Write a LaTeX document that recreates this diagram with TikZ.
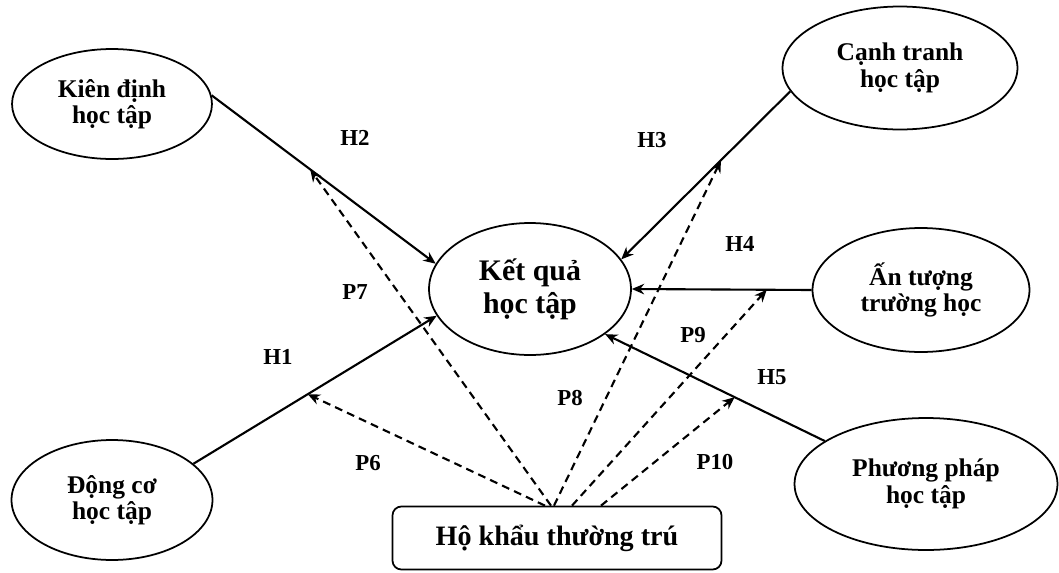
\documentclass[tikz,border=0pt]{standalone}
\usepackage{fontspec}
\setmainfont{Liberation Serif}
\usetikzlibrary{shapes.geometric,arrows.meta,calc}

\begin{document}
\begin{tikzpicture}[x=0.02cm,y=-0.02cm,
  oval/.style={ellipse,draw,line width=1pt,inner sep=0pt,align=center,
    font=\bfseries\fontsize{14.5}{15}\selectfont},
  hline/.style={line width=1.2pt,-{Stealth[length=7pt,width=6pt]}},
  pline/.style={line width=1.2pt,dash pattern=on 4.5pt off 3pt,-{Stealth[length=7pt,width=6pt]}},
  lab/.style={font=\bfseries\fontsize{13}{13}\selectfont}]
\useasboundingbox (0,0) rectangle (1059,572);

% factors and outcome
\node[oval,minimum width=4cm,minimum height=2.2cm] (kd) at (112,104) {Kiên định\\học tập};
\node[oval,minimum width=4.7cm,minimum height=2.46cm] (ct) at (900,68) {Cạnh tranh\\học tập};
\node[oval,minimum width=4.04cm,minimum height=2.64cm,
  font=\bfseries\fontsize{17}{19}\selectfont] (kq) at (530,289) {Kết quả\\học tập};
\node[oval,minimum width=4.34cm,minimum height=2.48cm] (at) at (921,290) {Ấn tượng\\trường học};
\node[oval,minimum width=5.26cm,minimum height=2.64cm] (pp) at (926,484) {Phương pháp\\học tập};
\node[oval,minimum width=4.02cm,minimum height=2.4cm] (dc) at (112,500) {Động cơ\\học tập};
\node[draw,line width=1pt,rounded corners=5pt,minimum width=6.58cm,minimum height=1.26cm,
  font=\bfseries\fontsize{16}{16}\selectfont] (box) at (557,538) {Hộ khẩu thường trú};

% hypotheses H
\draw[hline] (kd.5) -- coordinate[pos=0.44] (t7) (kq.165);
\draw[hline] (ct.192) -- coordinate[pos=0.41] (t8) (kq.18);
\draw[hline] (at.west) -- coordinate[pos=0.25] (t9) (kq.east);
\draw[hline] (pp.157) -- coordinate[pos=0.41] (t10) (kq.-31);
\draw[hline] (dc.24) -- coordinate[pos=0.47] (t6) (kq.196);

% moderation P
\coordinate (s6) at ($(box.north)+(-12,0)$);
\coordinate (s7) at ($(box.north)+(-6,0)$);
\coordinate (s8) at ($(box.north)+(-3,0)$);
\coordinate (s9) at ($(box.north)+(15,0)$);
\coordinate (s10) at ($(box.north)+(44,0)$);
\draw[pline] (s6) -- (t6);
\draw[pline] (s7) -- (t7);
\draw[pline] (s8) -- (t8);
\draw[pline] (s9) -- (t9);
\draw[pline] (s10) -- (t10);

\node[lab] (h2) at (355,138) {H2};
\node[lab] (h3) at (652,140) {H3};
\node[lab] (h4) at (740,244) {H4};
\node[lab] (h1) at (278,357) {H1};
\node[lab] (h5) at (772,377) {H5};
\node[lab] (p7) at (355,292) {P7};
\node[lab] (p8) at (570,398) {P8};
\node[lab] (p9) at (693,335) {P9};
\node[lab] (p6) at (368,463) {P6};
\node[lab] (p10) at (715,462) {P10};
\end{tikzpicture}
\end{document}
